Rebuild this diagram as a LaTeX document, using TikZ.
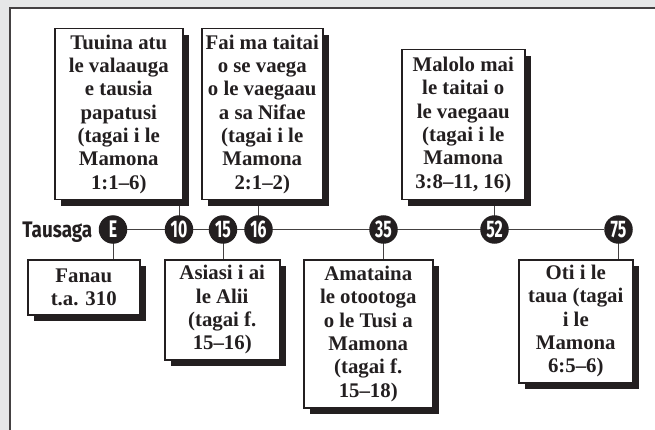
\documentclass[tikz,border=0pt]{standalone}
\usepackage{fontspec}
\newfontfamily\tfont[FakeStretch=0.84]{Fira Sans}
\newfontfamily\numfont[FakeStretch=0.66]{Fira Sans}
\newfontfamily\serifbf{Liberation Serif}
\newcommand\palbf{\serifbf\bfseries\fontsize{20.8}{23.3}\selectfont}
\usetikzlibrary{shadows,backgrounds}
\definecolor{bgray}{HTML}{E6E7E8}
\definecolor{ink}{HTML}{231F20}
\tikzset{
  evbox/.style={draw=ink, line width=1.5pt, fill=white, align=center, inner sep=0pt,
    anchor=north west, font=\palbf, text=ink,
    general shadow={fill=ink, shadow xshift=6pt, shadow yshift=-6pt}},
  yr/.style={circle, fill=ink, minimum size=28.5pt, inner sep=0pt, text=white,
    font=\numfont\bfseries\fontsize{24}{24}\selectfont},
  conn/.style={draw=ink!85, line width=1pt}
}
\begin{document}
\begin{tikzpicture}[x=1pt,y=-1pt]
\useasboundingbox (0,0) rectangle (655,430);
\begin{scope}[on background layer]
  \fill[bgray] (0,0) rectangle (655,430);
  \fill[white] (10,8) rectangle (655,430);
  \draw[line width=1.8pt, ink!85] (10,430) -- (10,8) -- (655,8);
\end{scope}

% year markers
\node[yr] (cE)  at (113,229.5) {E};
\node[yr] (c10) at (179,229.5) {10};
\node[yr] (c15) at (223,229.5) {15};
\node[yr] (c16) at (258.5,229.5) {16};
\node[yr] (c35) at (383.5,229.5) {35};
\node[yr] (c52) at (494.5,229.5) {52};
\node[yr] (c75) at (618.5,229.5) {75};

\node[anchor=base east, inner sep=0pt, text=ink,
  font=\tfont\bfseries\fontsize{22.5}{22.5}\selectfont] (tau) at (92.5,237) {Tausaga};

% event boxes above
\node[evbox, minimum width=128pt, minimum height=171pt] (b1) at (54,28)
  {Tuuina atu\\le valaauga\\e tausia\\papatusi\\(tagai i le\\Mamona\\1:1–6)};
\node[evbox, minimum width=121pt, minimum height=171pt] (b2) at (201,28)
  {Fai ma taitai\\o se vaega\\o le vaegaau\\a sa Nifae\\(tagai i le\\Mamona\\2:1–2)};
\node[evbox, minimum width=123pt, minimum height=150pt] (b3) at (401,49)
  {Malolo mai\\le taitai o\\le vaegaau\\(tagai i le\\Mamona\\3:8–11, 16)};

% event boxes below
\node[evbox, minimum width=112pt, minimum height=55pt] (b4) at (27,259)
  {Fanau\\t.a. 310};
\node[evbox, minimum width=115pt, minimum height=100pt] (b5) at (164,259)
  {Asiasi i ai\\le Alii\\(tagai f.\\15–16)};
\node[evbox, minimum width=129pt, minimum height=148pt] (b6) at (303,259)
  {Amataina\\le otootoga\\o le Tusi a\\Mamona\\(tagai f.\\15–18)};
\node[evbox, minimum width=114pt, minimum height=123pt] (b7) at (518,259)
  {Oti i le\\taua (tagai\\i le\\Mamona\\6:5–6)};

\begin{scope}[on background layer]
  \draw[conn] (cE) -- (c75);
  \draw[conn] (c10.center) -- (c10.center |- b1.south);
  \draw[conn] (c16.center) -- (c16.center |- b2.south);
  \draw[conn] (c52.center) -- (c52.center |- b3.south);
  \draw[conn] (cE.center) -- (cE.center |- b4.north);
  \draw[conn] (c15.center) -- (c15.center |- b5.north);
  \draw[conn] (c35.center) -- (c35.center |- b6.north);
  \draw[conn] (c75.center) -- (c75.center |- b7.north);
\end{scope}
\end{tikzpicture}
\end{document}
